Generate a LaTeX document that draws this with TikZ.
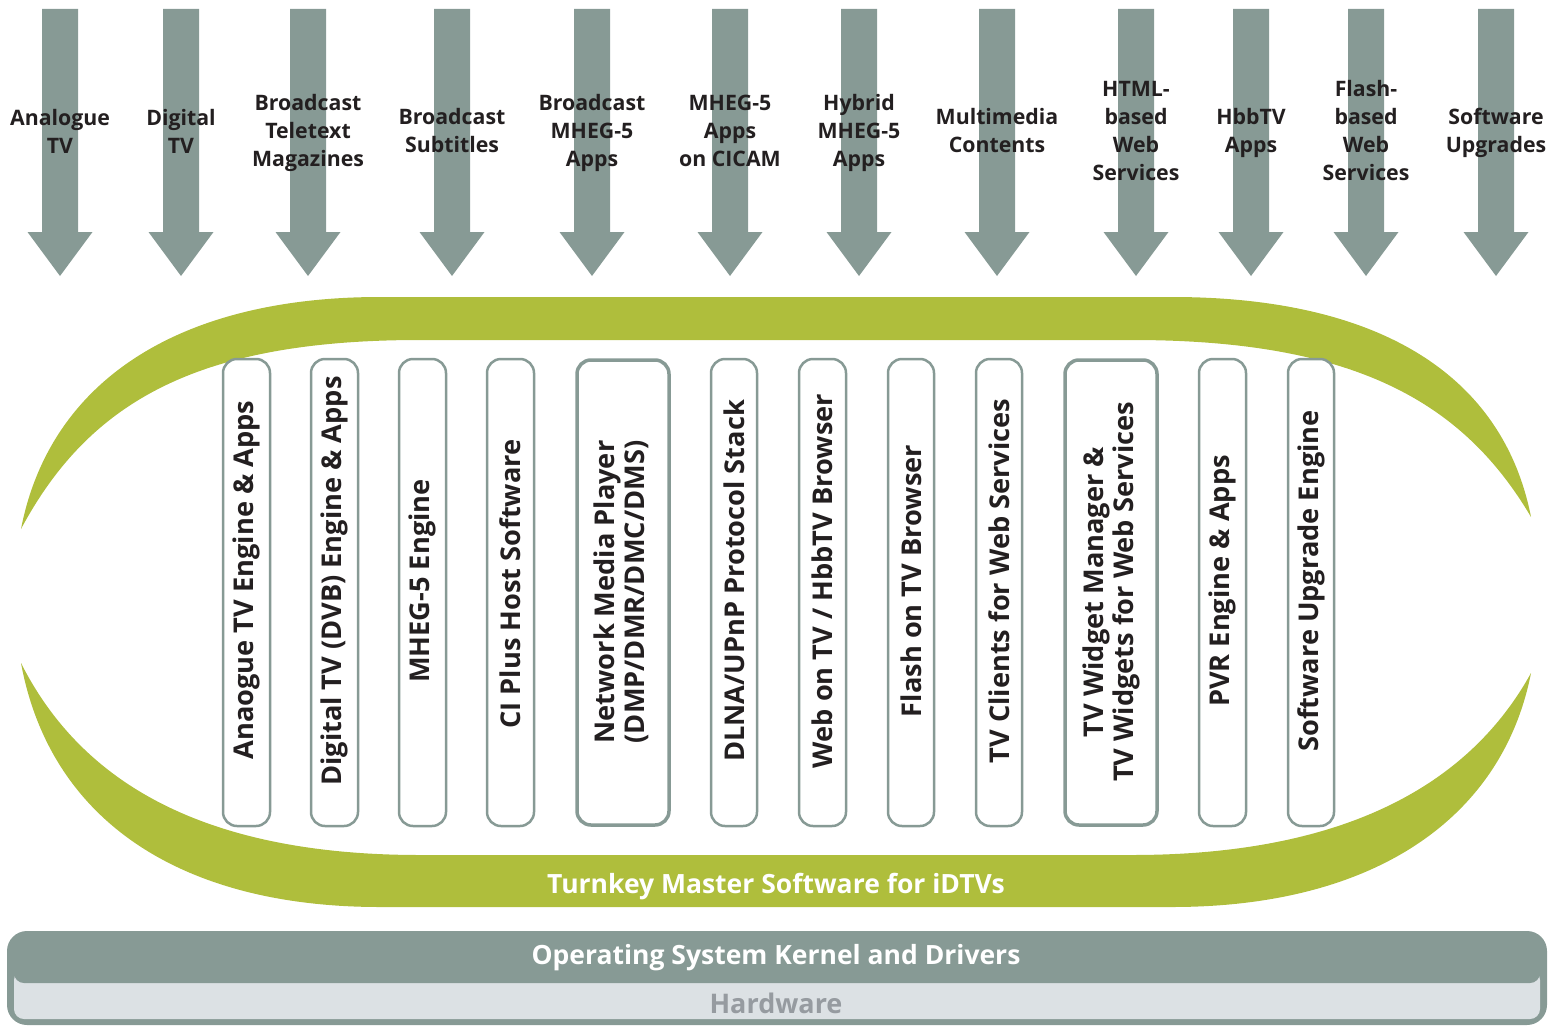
\documentclass[tikz,border=0pt]{standalone}
\usepackage{fontspec}
\setmainfont{Open Sans}
\definecolor{arrowgray}{HTML}{879A95}
\definecolor{lime}{HTML}{AFBE3C}
\definecolor{txtdark}{HTML}{231F20}
\definecolor{hwbg}{HTML}{DCE1E4}
\definecolor{hwtxt}{HTML}{969BA0}
\tikzset{
  inarrow/.style={fill=arrowgray},
  arrlabel/.style={font=\bfseries\fontsize{21.3}{28}\selectfont, text=txtdark, align=center, inner sep=0},
  vbox/.style={draw=arrowgray, line width=2.5pt, fill=white, rounded corners=14pt},
  vboxthick/.style={vbox, line width=3.5pt},
  vtext/.style={font=\bfseries\fontsize{27.2}{30}\selectfont, text=txtdark, align=center, rotate=90, inner sep=0},
  bigwhite/.style={font=\bfseries\fontsize{26.5}{30}\selectfont, text=white, inner sep=0},
}
\newcommand{\inarrowat}[1]{%
  \fill[inarrow] (#1-18,9) -- (#1+18,9) -- (#1+18,232) -- (#1+32.5,232) -- (#1,276) -- (#1-32.5,232) -- (#1-18,232) -- cycle;}
\begin{document}
\begin{tikzpicture}[x=1pt,y=-1pt]
\useasboundingbox (0,0) rectangle (1549,1025);
% input arrows
\foreach \cx in {60,181,308,452,592,730,859,997,1136,1251,1366,1496} {\inarrowat{\cx}}
\node[arrlabel] (l1) at (60,131) {Analogue\\TV};
\node[arrlabel] (l2) at (181,131) {Digital\\TV};
\node[arrlabel] (l3) at (308,133) {Broadcast\\Teletext\\Magazines};
\node[arrlabel] (l4) at (452,131) {Broadcast\\Subtitles};
\node[arrlabel] (l5) at (592,133) {Broadcast\\MHEG-5\\Apps};
\node[arrlabel] (l6) at (730,131) {MHEG-5\\Apps\\on CICAM};
\node[arrlabel] (l7) at (859,133) {Hybrid\\MHEG-5\\Apps};
\node[arrlabel] (l8) at (997,131) {Multimedia\\Contents};
\node[arrlabel] (l9) at (1136,131) {HTML-\\based\\Web\\Services};
\node[arrlabel] (l10) at (1251,133) {HbbTV\\Apps};
\node[arrlabel] (l11) at (1366,131) {Flash-\\based\\Web\\Services};
\node[arrlabel] (l12) at (1496,133) {Software\\Upgrades};
% green ring
\fill[lime] (21,529) .. controls (50,380) and (180,297) .. (380,297) -- (1172,297)
  .. controls (1372,297) and (1502,370) .. (1531,517)
  .. controls (1462,400) and (1352,340) .. (1132,340) -- (420,340)
  .. controls (200,340) and (90,400) .. cycle;
\fill[lime] (21,663) .. controls (50,820) and (180,907) .. (380,907) -- (1172,907)
  .. controls (1372,907) and (1502,820) .. (1531,673)
  .. controls (1472,780) and (1352,855) .. (1132,855) -- (420,855)
  .. controls (200,855) and (80,780) .. cycle;
\node[bigwhite] (turnkey) at (776,887) {Turnkey Master Software for iDTVs};
% vertical boxes
\foreach \xa/\xb/\nm in {223/270/b1,311/358/b2,399/446/b3,487/534/b4,711/757/b6,799/846/b7,888/934/b8,976/1022/b9,1199/1246/b11,1288/1334/b12}
  {\draw[vbox] (\xa,359) rectangle (\xb,826);}
\draw[vboxthick] (577,360) rectangle (669,825);
\draw[vboxthick] (1065,360) rectangle (1157,825);
\node[vtext] (t1) at (246.5,580) {Anaogue TV Engine \& Apps};
\node[vtext] (t2) at (334.5,581) {Digital TV (DVB) Engine \& Apps};
\node[vtext] (t3) at (422.5,581) {MHEG-5 Engine};
\node[vtext] (t4) at (510.5,584) {CI Plus Host Software};
\node[vtext] (t5) at (621,592) {Network Media Player\\(DMP/DMR/DMC/DMS)};
\node[vtext] (t6) at (734,581) {DLNA/UPnP Protocol Stack};
\node[vtext] (t7) at (822.5,581) {Web on TV / HbbTV Browser};
\node[vtext] (t8) at (911,581) {Flash on TV Browser};
\node[vtext] (t9) at (999,581) {TV Clients for Web Services};
\node[vtext] (t10) at (1111,592) {TV Widget Manager \&\\TV Widgets for Web Services};
\node[vtext] (t11) at (1222.5,581) {PVR Engine \& Apps};
\node[vtext] (t12) at (1311,581) {Software Upgrade Engine};
% OS and hardware bars
\fill[arrowgray, rounded corners=20pt] (7,931) rectangle (1547,1025);
\fill[hwbg, rounded corners=10pt] (14,970) rectangle (1540,1019);
\fill[arrowgray, rounded corners=10pt] (14,955) rectangle (1540,983);
\node[bigwhite] (os) at (776,958) {Operating System Kernel and Drivers};
\node[font=\bfseries\fontsize{27}{30}\selectfont, text=hwtxt, inner sep=0] (hw) at (776,1003) {Hardware};
\end{tikzpicture}
\end{document}
